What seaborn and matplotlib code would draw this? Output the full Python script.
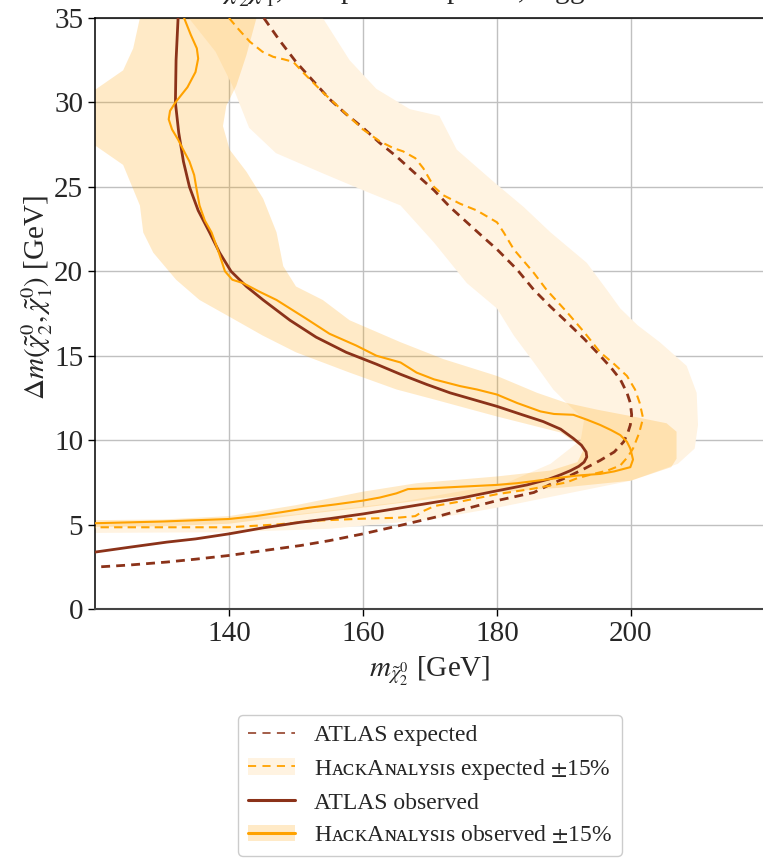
import matplotlib
matplotlib.use("Agg")
import matplotlib.pyplot as plt
from matplotlib.lines import Line2D
from matplotlib.patches import Patch
import numpy as np
import pandas as pd
import seaborn as sns

# ---- curves: (m_chi2, delta m) ----
atlas_obs_m = [132.4, 132.1, 132.0, 132.5, 133.2, 134.1, 135.4, 137.1, 138.6, 140.3, 142.6, 145.1,
               149.1, 153.0, 157.5, 162.0, 165.6, 169.5, 173.0, 176.5, 180.0, 183.8, 186.9, 189.5,
               191.4, 192.6, 193.3, 193.4, 193.0, 192.2, 191.0, 189.5, 187.8, 184.5, 180.0, 175.0,
               170.7, 165.0, 160.0, 155.0, 150.7, 145.0, 140.0, 135.0, 130.7, 125.0, 120.0]
atlas_obs_dm = [35.0, 32.5, 30.0, 28.2, 26.5, 25.0, 23.6, 22.3, 21.1, 20.0, 19.1, 18.3,
                17.1, 16.1, 15.2, 14.5, 13.9, 13.3, 12.8, 12.4, 12.0, 11.5, 11.1, 10.65,
                10.1, 9.7, 9.3, 9.0, 8.7, 8.45, 8.2, 7.95, 7.7, 7.35, 7.0, 6.6,
                6.32, 5.95, 5.63, 5.35, 5.14, 4.8, 4.45, 4.15, 3.96, 3.65, 3.37]

atlas_exp_m = [145.2, 147.5, 150.0, 152.5, 155.0, 157.5, 160.0, 162.5, 165.0, 167.5, 170.6, 173.0,
               175.5, 178.0, 180.0, 183.0, 185.5, 188.0, 190.4, 193.0, 195.4, 197.0, 198.4, 199.4,
               199.9, 200.1, 199.9, 199.5, 198.9, 197.5, 195.4, 193.0, 190.4, 187.8, 185.5, 180.0,
               175.0, 170.7, 165.0, 160.0, 155.0, 150.7, 145.0, 140.0, 135.0, 130.7, 125.0, 120.0]
atlas_exp_dm = [35.0, 33.7, 32.4, 31.3, 30.2, 29.3, 28.5, 27.6, 26.8, 25.9, 24.8, 23.8,
                22.9, 22.0, 21.3, 20.1, 18.9, 17.9, 17.0, 16.0, 15.0, 14.3, 13.6, 12.8,
                12.2, 11.5, 10.9, 10.4, 9.9, 9.3, 8.8, 8.3, 7.8, 7.35, 6.9, 6.42,
                5.9, 5.43, 4.9, 4.45, 4.05, 3.76, 3.45, 3.17, 2.95, 2.78, 2.6, 2.48]

ha_exp_m = [140.0, 141.5, 143.1, 145.0, 146.6, 148.2, 149.6, 151.0, 152.5, 154.0, 157.0, 160.0,
            162.5, 164.5, 166.0, 167.8, 169.0, 170.6, 172.0, 174.5, 177.0, 180.0, 181.0, 182.5,
            184.0, 185.5, 187.4, 190.4, 193.0, 195.4, 197.5, 199.4, 200.6, 201.3, 201.8, 201.2,
            200.3, 199.5, 198.4, 196.5, 194.4, 192.0, 190.4, 187.8, 185.0, 180.0, 175.0, 170.7,
            169.0, 167.8, 165.0, 160.0, 153.5, 147.0, 140.0, 130.0, 120.0]
ha_exp_dm = [35.0, 34.3, 33.6, 33.0, 32.7, 32.55, 32.4, 31.8, 31.2, 30.6, 29.5, 28.4,
             27.7, 27.3, 27.1, 26.7, 26.1, 25.0, 24.5, 24.0, 23.6, 22.9, 22.3, 21.3,
             20.6, 19.9, 18.9, 17.6, 16.4, 15.2, 14.5, 13.8, 13.0, 12.2, 11.3, 10.4,
             9.5, 9.0, 8.5, 8.2, 8.0, 7.75, 7.5, 7.3, 7.1, 6.8, 6.4, 6.1,
             5.8, 5.5, 5.4, 5.35, 5.24, 5.0, 4.84, 4.84, 4.84]

ha_obs_m = [133.3, 134.3, 135.2, 135.4, 135.0, 133.8, 132.0, 131.2, 131.0, 131.5, 132.4, 133.3,
            134.1, 134.8, 135.1, 135.6, 136.4, 137.4, 138.4, 139.4, 140.5, 142.1, 144.5, 147.1,
            151.5, 155.0, 159.0, 162.0, 165.6, 168.0, 170.6, 174.5, 177.0, 180.0, 183.0, 186.5,
            188.5, 191.4, 193.5, 195.4, 197.0, 198.4, 199.4, 199.9, 200.3, 199.9, 197.5, 195.4,
            191.9, 187.0, 183.0, 180.0, 175.0, 170.0, 166.7, 165.0, 162.5, 160.0, 156.0, 152.0,
            147.8, 144.0, 140.0, 130.0, 120.0]
ha_obs_dm = [35.0, 34.0, 33.2, 32.6, 31.8, 30.9, 30.0, 29.5, 29.0, 28.4, 27.8, 27.1,
             26.5, 25.7, 25.0, 23.9, 23.0, 22.3, 21.2, 20.0, 19.5, 19.3, 18.8, 18.3,
             17.2, 16.3, 15.6, 15.0, 14.6, 14.0, 13.6, 13.2, 13.0, 12.7, 12.2, 11.7,
             11.55, 11.5, 11.2, 10.9, 10.6, 10.3, 9.9, 9.5, 8.85, 8.4, 8.15, 8.0,
             7.9, 7.65, 7.45, 7.35, 7.25, 7.15, 7.1, 6.85, 6.6, 6.42, 6.2, 6.0,
             5.73, 5.5, 5.33, 5.18, 5.08]

# ---- +-15% bands (outline polygons) ----
ha_exp_band_m = [153.0, 154.0, 158.0, 162.0, 167.0, 171.4, 174.0, 179.5, 184.0, 188.0, 193.4, 196.4,
                 198.4, 201.0, 204.3, 208.3, 209.8, 210.0, 209.5, 207.0, 200.0, 190.0, 180.0, 170.0,
                 155.0, 140.0, 117.0, 117.0, 135.0, 150.0, 165.0, 175.0, 181.0, 188.0, 192.5, 193.0,
                 190.4, 188.4, 185.5, 182.5, 180.0, 175.5, 170.6, 165.6, 160.0, 154.0, 147.0, 143.0,
                 140.5, 138.0, 134.0, 133.5]
ha_exp_band_dm = [37.0, 35.0, 32.5, 30.8, 29.6, 29.2, 27.2, 25.3, 23.8, 22.3, 20.5, 18.9,
                  17.8, 16.8, 15.8, 14.4, 12.8, 10.9, 9.5, 8.6, 7.6, 6.8, 6.0, 5.3,
                  4.75, 4.55, 4.5, 5.1, 5.2, 5.6, 6.3, 7.0, 7.4, 8.6, 10.0, 11.2,
                  12.2, 13.0, 14.6, 16.2, 17.8, 19.3, 21.7, 23.9, 24.8, 25.8, 27.0, 28.5,
                  31.0, 33.0, 35.0, 37.0]

ha_obs_band_m = [126.5, 126.7, 125.7, 124.2, 120.2, 117.0, 117.0, 120.2, 124.2, 126.7, 127.2, 128.7,
                 132.1, 135.6, 140.1, 145.0, 150.0, 158.0, 165.0, 170.7, 180.0, 189.5, 193.0, 192.0,
                 188.0, 180.0, 168.0, 160.0, 150.0, 140.0, 130.0, 117.0, 117.0, 130.0, 140.0, 150.0,
                 160.0, 170.0, 180.0, 190.0, 200.0, 206.0, 206.8, 206.8, 205.3, 200.3, 195.0, 190.4,
                 186.0, 180.0, 172.0, 165.6, 158.0, 154.0, 150.0, 148.1, 147.1, 145.1, 142.6, 140.1,
                 139.1, 139.6, 141.1, 142.6, 144.1, 144.5]
ha_obs_band_dm = [37.0, 35.0, 33.2, 31.9, 30.8, 30.6, 27.3, 27.4, 26.3, 23.9, 22.3, 21.1,
                  19.5, 18.3, 17.3, 16.2, 15.2, 14.0, 13.0, 12.4, 11.4, 10.45, 9.5, 8.7,
                  8.2, 7.85, 7.45, 6.95, 6.15, 5.5, 5.3, 5.25, 4.85, 4.9, 5.05, 5.55,
                  6.0, 6.5, 6.9, 7.2, 7.6, 8.4, 8.9, 10.5, 11.0, 11.4, 11.8, 12.2,
                  12.8, 13.8, 14.8, 15.8, 17.1, 18.3, 19.1, 20.3, 22.3, 24.3, 25.9, 27.2,
                  28.6, 29.8, 31.0, 32.8, 35.0, 37.0]

x_ticks = [140, 160, 180, 200]
y_ticks = [0, 5, 10, 15, 20, 25, 30, 35]

BROWN = "#8b3219"
ORANGE = "#ffa200"
EXP_FILL = "#fff3e1"

sns.set_theme(style="ticks")
plt.rcParams["font.family"] = ["Liberation Serif", "DejaVu Serif", "DejaVu Sans"]
plt.rcParams["mathtext.fontset"] = "stix"

fig = plt.figure(figsize=(7.63, 8.63), dpi=100)
ax = fig.add_axes([95 / 763, 254 / 863, 670 / 763, 591 / 863])

ax.fill(ha_exp_band_m, ha_exp_band_dm, color=EXP_FILL, lw=0, zorder=1)
ax.fill(ha_obs_band_m, ha_obs_band_dm, color=ORANGE, alpha=0.22, lw=0, zorder=1.1)

curves = pd.concat([
    pd.DataFrame({"m": atlas_exp_m, "dm": atlas_exp_dm, "c": "atlas_exp"}),
    pd.DataFrame({"m": ha_exp_m, "dm": ha_exp_dm, "c": "ha_exp"}),
    pd.DataFrame({"m": atlas_obs_m, "dm": atlas_obs_dm, "c": "atlas_obs"}),
    pd.DataFrame({"m": ha_obs_m, "dm": ha_obs_dm, "c": "ha_obs"}),
])
styles = {
    "atlas_exp": dict(color=BROWN, lw=2.0, ls=(0, (3.2, 2.2))),
    "ha_exp": dict(color=ORANGE, lw=1.5, ls=(0, (4, 2.5))),
    "atlas_obs": dict(color=BROWN, lw=2.0, ls="-"),
    "ha_obs": dict(color=ORANGE, lw=1.5, ls="-"),
}
for key, sub in curves.groupby("c", sort=False):
    sns.lineplot(data=sub, x="m", y="dm", sort=False, estimator=None, ax=ax,
                 zorder=3, **styles[key])

ax.set_xlim(120, 220)
ax.set_ylim(0, 35)
ax.set_xticks(x_ticks)
ax.set_yticks(y_ticks)
ax.grid(True, color="#c0c0c0", lw=1.0, zorder=0)
ax.set_axisbelow(True)
ax.tick_params(labelsize=21, length=5, width=1, color="black")
for s in ax.spines.values():
    s.set_color("black")
    s.set_linewidth(1.1)
ax.spines["bottom"].set_color("#444444")
ax.spines["bottom"].set_linewidth(1.5)
ax.set_xlabel(r"$m_{\tilde{\chi}_2^0}$ [GeV]", fontsize=21, labelpad=6)
ax.set_ylabel(r"$\Delta m(\tilde{\chi}_2^0, \tilde{\chi}_1^0)$ [GeV]", fontsize=21)
ax.yaxis.set_label_coords(-0.06, 0.527)

# title of the original, clipped by the top edge of the crop
fig.text(0.56, 1.0 + 1 / 863, r"$\tilde{\chi}_2^0\tilde{\chi}_1^0$, compressed spectra, higgsino",
         ha="center", va="baseline", fontsize=21)

hack = "H\u1d00\u1d04\u1d0bA\u0274\u1d00\u029f\u028fs\u026as"
handles = [
    Line2D([], [], color=BROWN, lw=1.3, ls=(0, (4.5, 3.5)), alpha=0.85),
    (Patch(color=EXP_FILL, lw=0), Line2D([], [], color=ORANGE, lw=1.3, ls=(0, (4.5, 3.5)))),
    Line2D([], [], color=BROWN, lw=2.2),
    (Patch(color=ORANGE, alpha=0.22, lw=0), Line2D([], [], color=ORANGE, lw=2.2)),
]
labels = ["ATLAS expected", hack + r" expected $\pm$15%",
          "ATLAS observed", hack + r" observed $\pm$15%"]
fig.legend(handles, labels, loc="upper center", bbox_to_anchor=(430 / 763, 1 - 715 / 863),
           borderaxespad=0.0, fontsize=17, labelspacing=0.45, handlelength=2.0,
           handletextpad=0.8, borderpad=0.4, frameon=True, fancybox=True,
           edgecolor="#cccccc", framealpha=1.0)

fig.savefig("out.png", dpi=100)
